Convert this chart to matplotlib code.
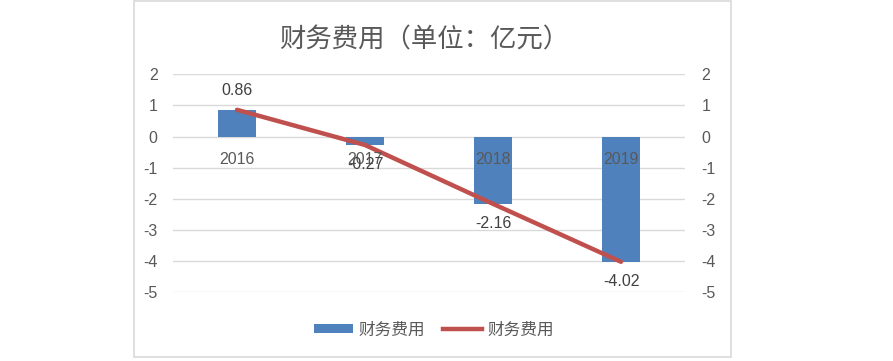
"""财务费用（单位：亿元）柱状图 + 折线图。"""
import matplotlib
matplotlib.use("Agg")
import matplotlib.pyplot as plt
from matplotlib.patches import Rectangle, Patch
from matplotlib.lines import Line2D

plt.rcParams["font.family"] = ["Liberation Sans", "Noto Sans CJK SC", "DejaVu Sans"]
plt.rcParams["axes.unicode_minus"] = False

years = ["2016", "2017", "2018", "2019"]
costs = [0.86, -0.27, -2.16, -4.02]
yticks = [2, 1, 0, -1, -2, -3, -4, -5]

BAR_C = "#4F81BD"
LINE_C = "#C0504D"
GRID_C = "#D9D9D9"
TXT_C = "#595959"
FS = 11.5

W, H = 893, 361
fig = plt.figure(figsize=(W / 100, H / 100), dpi=100)
ax = fig.add_axes([173 / W, 1 - 292.3 / H, 512 / W, 218 / H])

x = list(range(len(years)))
ax.bar(x, costs, width=0.3, color=BAR_C, zorder=2)
ax.plot(x, costs, color=LINE_C, lw=3.2, zorder=3, solid_capstyle="round")

ax.set_xlim(-0.5, len(years) - 0.5)
ax.set_ylim(min(yticks), max(yticks))
ax.set_yticks(yticks)
ax.set_xticks([])
ax.grid(axis="y", color=GRID_C, lw=1, zorder=0)
ax.tick_params(axis="y", length=0, pad=11, labelsize=FS, labelcolor=TXT_C)
for s in ax.spines.values():
    s.set_visible(False)

ax2 = ax.twinx()
ax2.set_ylim(ax.get_ylim())
ax2.set_yticks(yticks)
ax2.tick_params(axis="y", length=0, pad=12, labelsize=FS, labelcolor=TXT_C)
for s in ax2.spines.values():
    s.set_visible(False)

# 类别标签放在 0 轴下方
for xi, yr in zip(x, years):
    ax.annotate(yr, (xi, 0), xytext=(0, -11), textcoords="offset points",
                ha="center", va="top", fontsize=FS, color=TXT_C, zorder=4)

# 数据标签
for xi, v in zip(x, costs):
    off = 14 if v >= 0 else -14
    ax.annotate(f"{v:.2f}", (xi, v), xytext=(0, off), textcoords="offset points",
                ha="center", va="center", fontsize=FS, color="#404040", zorder=5)

fig.text(424 / W, 1 - 40 / H, "财务费用（单位：亿元）", ha="center", va="center",
         fontsize=19, color=TXT_C, family=["Noto Sans CJK SC"])

handles = [Patch(facecolor=BAR_C, edgecolor="none"),
           Line2D([0], [0], color=LINE_C, lw=3.2)]
fig.legend(handles, ["财务费用", "财务费用"], loc="center", bbox_to_anchor=(434 / W, 1 - 330 / H),
           ncol=2, frameon=False, labelcolor=TXT_C, handlelength=2.3,
           handleheight=0.5, columnspacing=1.1, handletextpad=0.35,
           prop={"family": ["Noto Sans CJK SC"], "size": 12})

fig.patches.append(Rectangle((134 / W, 1 - 357 / H), (731 - 134) / W, 356 / H,
                             transform=fig.transFigure, fill=False, edgecolor=GRID_C, lw=1.2))

fig.savefig("out.png", dpi=100)
